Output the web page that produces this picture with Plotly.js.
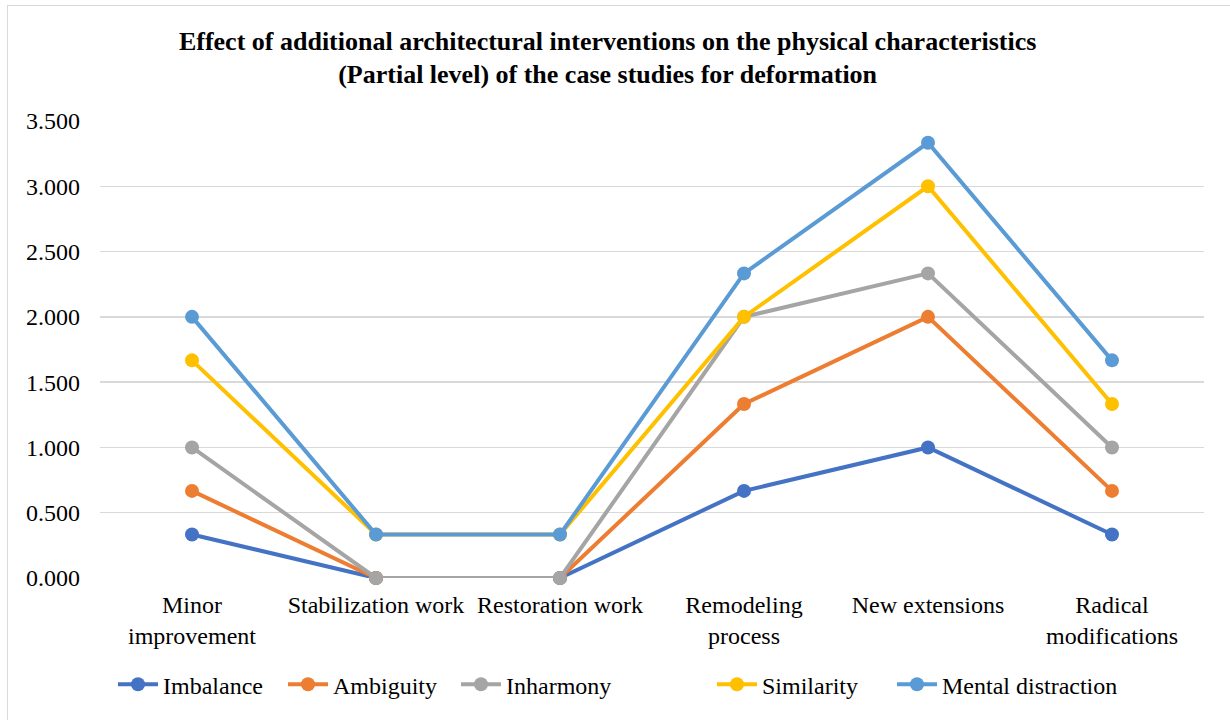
<!DOCTYPE html>
<html>
<head>
<meta charset="utf-8">
<script src="https://cdn.plot.ly/plotly-3.0.1.min.js"></script>
<style>
html,body{margin:0;padding:0;background:#fff;}
#frame{position:absolute;left:7px;top:5px;width:1240px;height:730px;border-left:1.5px solid #d9d9d9;border-top:1.5px solid #d9d9d9;pointer-events:none;z-index:5;}
#chart{position:absolute;left:0;top:0;width:1230px;height:720px;}
</style>
</head>
<body>
<div id="chart"></div>
<div id="frame"></div>
<script>
const categories = ["Minor<br>improvement", "Stabilization work", "Restoration work", "Remodeling<br>process", "New extensions", "Radical<br>modifications"];
const seriesNames = ["Imbalance", "Ambiguity", "Inharmony", "Similarity", "Mental distraction"];
const imbalance = [0.333, 0, 0, 0.667, 1.0, 0.333];
const ambiguity = [0.667, 0, 0, 1.333, 2.0, 0.667];
const inharmony = [1.0, 0, 0, 2.0, 2.333, 1.0];
const similarity = [1.667, 0.333, 0.333, 2.0, 3.0, 1.333];
const mentalDistraction = [2.0, 0.333, 0.333, 2.333, 3.333, 1.667];
const colors = ["#4472C4", "#ED7D31", "#A5A5A5", "#FFC000", "#5B9BD5"];
const tickVals = [0, 0.5, 1.0, 1.5, 2.0, 2.5, 3.0, 3.5];
const tickText = ["0.000", "0.500", "1.000", "1.500", "2.000", "2.500", "3.000", "3.500"];

const font = "Liberation Serif, Times New Roman, serif";
const legendIds = ["legend", "legend2", "legend3", "legend4", "legend5"];
const legendStarts = [113, 283, 456, 712, 892];

const allSeries = [imbalance, ambiguity, inharmony, similarity, mentalDistraction];
const traces = allSeries.map((vals, i) => ({
  type: "scatter",
  mode: "lines+markers",
  name: seriesNames[i],
  legend: legendIds[i],
  x: categories,
  y: vals,
  line: {color: colors[i], width: 4},
  marker: {color: colors[i], size: 14},
  cliponaxis: false
}));

const layout = {
  width: 1230, height: 720,
  paper_bgcolor: "#ffffff", plot_bgcolor: "#ffffff",
  margin: {l: 100, r: 26, t: 121, b: 142},
  font: {family: font, size: 24, color: "#000"},
  title: {
    text: "<b>Effect of additional architectural interventions on the physical characteristics<br>(Partial level) of the case studies for deformation</b>",
    font: {family: font, size: 26, color: "#000"},
    x: 0.494, xref: "container", xanchor: "center",
    y: 0.931, yref: "container", yanchor: "top"
  },
  xaxis: {
    type: "category",
    showgrid: false, zeroline: false, showline: false,
    ticks: "", tickfont: {family: font, size: 24, color: "#000"},
    ticklabelstandoff: 10,
    range: [-0.5, 5.5]
  },
  yaxis: {
    range: [0, 3.5],
    tickvals: tickVals, ticktext: tickText,
    showgrid: true, gridcolor: "#d9d9d9", gridwidth: 1.5,
    zeroline: false, showline: false, ticks: "",
    ticklabelstandoff: 19,
    tickfont: {family: font, size: 24, color: "#000"}
  },
  showlegend: true
};
legendIds.forEach((id, i) => {
  layout[id] = {
    orientation: "h",
    xref: "container", yref: "container",
    x: legendStarts[i] / 1230, xanchor: "left",
    y: 0.049, yanchor: "middle",
    font: {family: font, size: 24, color: "#000"},
    bgcolor: "rgba(0,0,0,0)",
    itemwidth: 40
  };
});

Plotly.newPlot("chart", traces, layout, {displayModeBar: false, staticPlot: true});
</script>
</body>
</html>
